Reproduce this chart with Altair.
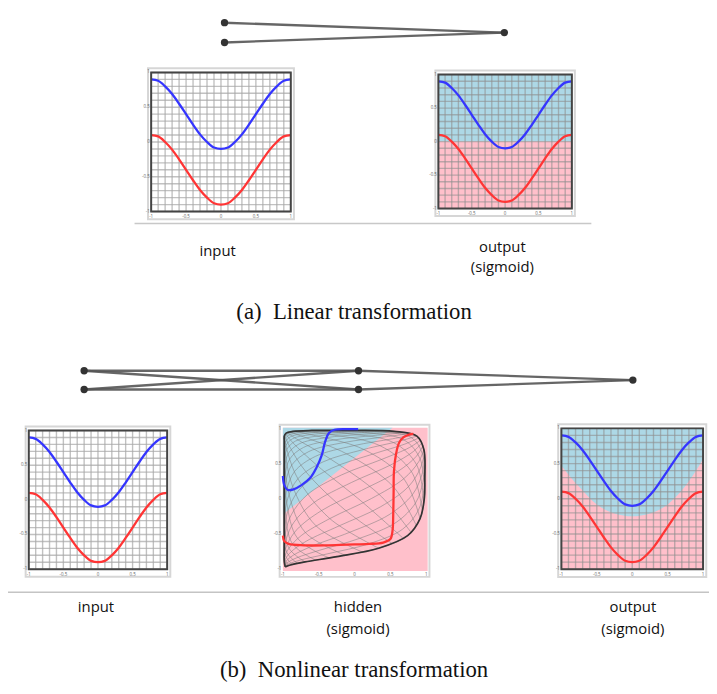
import altair as alt
import pandas as pd

# ---------------- data ----------------
grid_vals = [-1.0, -0.9, -0.8, -0.7, -0.6, -0.5, -0.4, -0.3, -0.2, -0.1, 0.0,
             0.1, 0.2, 0.3, 0.4, 0.5, 0.6, 0.7, 0.8, 0.9, 1.0]
tick_vals = [-1.0, -0.5, 0.0, 0.5, 1.0]
tick_labels = ["-1", "-0.5", "0", "0.5", "1"]

curve_x = [-1.0, -0.9, -0.8, -0.7, -0.6, -0.5, -0.4, -0.3, -0.2, -0.1, 0.0,
           0.1, 0.2, 0.3, 0.4, 0.5, 0.6, 0.7, 0.8, 0.9, 1.0]
blue_y = [0.90, 0.88, 0.80, 0.69, 0.55, 0.40, 0.25, 0.11, 0.00, -0.08, -0.10,
          -0.08, 0.00, 0.11, 0.25, 0.40, 0.55, 0.69, 0.80, 0.88, 0.90]
red_y = [0.10, 0.08, 0.00, -0.11, -0.25, -0.40, -0.55, -0.69, -0.80, -0.88, -0.90,
         -0.88, -0.80, -0.69, -0.55, -0.40, -0.25, -0.11, 0.00, 0.08, 0.10]

# decision boundary, linear output
lin_split = 0.0
# decision boundary, nonlinear output
nl_bx = [-1.0, -0.75, -0.5, -0.25, 0.0, 0.25, 0.5, 0.75, 1.0]
nl_by = [0.47, 0.17, -0.08, -0.21, -0.25, -0.21, -0.08, 0.18, 0.56]

# hidden layer panel
hid_split_x = [-1.0, 0.53]
hid_split_y = [-0.22, 1.02]
hid_blue_x = [-1.0, -0.98, -0.93, -0.85, -0.74, -0.62, -0.53, -0.46, -0.41, -0.36, -0.28, -0.10, 0.05]
hid_blue_y = [0.33, 0.20, 0.13, 0.14, 0.20, 0.30, 0.45, 0.62, 0.82, 0.94, 0.99, 1.00, 1.00]
hid_red_x = [-1.0, -0.98, -0.92, -0.70, -0.40, -0.10, 0.20, 0.40, 0.50, 0.53, 0.54, 0.545,
             0.55, 0.58, 0.62, 0.68, 0.76, 0.82]
hid_red_y = [-0.52, -0.60, -0.64, -0.66, -0.66, -0.65, -0.64, -0.62, -0.57, -0.45, -0.20, 0.10,
             0.40, 0.65, 0.80, 0.88, 0.92, 0.93]

# warped grid: lines that run from the lower / right edge into the top-left corner
hid_rays_x = [
    [-0.967, -0.98, -0.98, -0.98, -0.98],
    [-0.948, -0.98, -0.98, -0.98, -0.98],
    [-0.917, -0.979, -0.98, -0.98, -0.98],
    [-0.869, -0.967, -0.98, -0.98, -0.98],
    [-0.797, -0.947, -0.98, -0.98, -0.98],
    [-0.691, -0.915, -0.979, -0.98, -0.98],
    [-0.544, -0.867, -0.966, -0.98, -0.98],
    [-0.354, -0.793, -0.946, -0.98, -0.98],
    [-0.129, -0.686, -0.914, -0.978, -0.98],
    [0.110, -0.537, -0.864, -0.965, -0.98],
    [0.336, -0.345, -0.790, -0.945, -0.98],
    [0.530, -0.119, -0.681, -0.912, -0.978],
    [0.681, 0.119, -0.530, -0.862, -0.965],
    [0.790, 0.345, -0.336, -0.786, -0.944],
    [0.864, 0.537, -0.110, -0.675, -0.910],
    [0.914, 0.686, 0.129, -0.523, -0.859],
    [0.946, 0.793, 0.354, -0.328, -0.782],
    [0.966, 0.867, 0.544, -0.100, -0.670],
    [0.979, 0.915, 0.691, 0.139, -0.515],
    [0.980, 0.947, 0.797, 0.363, -0.319],
    [0.980, 0.967, 0.870, 0.551, -0.090],
]
hid_rays_y = [
    [-0.967, -0.896, -0.701, -0.278, 0.291],
    [-0.958, -0.871, -0.637, -0.166, 0.394],
    [-0.947, -0.840, -0.562, -0.051, 0.488],
    [-0.934, -0.802, -0.477, 0.066, 0.572],
    [-0.917, -0.756, -0.382, 0.181, 0.646],
    [-0.896, -0.701, -0.278, 0.291, 0.709],
    [-0.871, -0.637, -0.166, 0.394, 0.763],
    [-0.840, -0.562, -0.051, 0.488, 0.807],
    [-0.802, -0.477, 0.066, 0.572, 0.844],
    [-0.756, -0.382, 0.181, 0.646, 0.875],
    [-0.701, -0.278, 0.291, 0.709, 0.900],
    [-0.637, -0.166, 0.394, 0.763, 0.920],
    [-0.562, -0.051, 0.488, 0.807, 0.936],
    [-0.477, 0.066, 0.572, 0.844, 0.949],
    [-0.382, 0.181, 0.646, 0.875, 0.959],
    [-0.278, 0.291, 0.709, 0.900, 0.967],
    [-0.166, 0.394, 0.763, 0.920, 0.974],
    [-0.051, 0.488, 0.807, 0.936, 0.980],
    [0.066, 0.572, 0.844, 0.949, 0.980],
    [0.181, 0.646, 0.875, 0.959, 0.980],
    [0.291, 0.709, 0.900, 0.967, 0.980],
]
# warped grid: nested arcs around the top-left corner
hid_arcs_x = [
    [-0.967, -0.896, -0.691, -0.245, 0.336, 0.740, 0.914, 0.973, 0.980],
    [-0.975, -0.921, -0.758, -0.373, 0.205, 0.668, 0.887, 0.965, 0.980],
    [-0.980, -0.939, -0.812, -0.488, 0.066, 0.582, 0.853, 0.953, 0.980],
    [-0.980, -0.954, -0.856, -0.589, -0.076, 0.481, 0.809, 0.938, 0.980],
    [-0.980, -0.965, -0.889, -0.674, -0.215, 0.364, 0.754, 0.919, 0.975],
    [-0.980, -0.974, -0.915, -0.744, -0.345, 0.235, 0.686, 0.894, 0.967],
    [-0.980, -0.980, -0.935, -0.801, -0.464, 0.098, 0.603, 0.861, 0.956],
    [-0.980, -0.980, -0.951, -0.846, -0.568, -0.044, 0.505, 0.820, 0.942],
    [-0.980, -0.980, -0.963, -0.882, -0.656, -0.184, 0.392, 0.767, 0.924],
    [-0.980, -0.980, -0.972, -0.910, -0.730, -0.317, 0.265, 0.702, 0.900],
    [-0.980, -0.980, -0.979, -0.932, -0.790, -0.438, 0.129, 0.623, 0.870],
    [-0.980, -0.980, -0.980, -0.948, -0.837, -0.546, -0.012, 0.529, 0.830],
    [-0.980, -0.980, -0.980, -0.960, -0.875, -0.638, -0.153, 0.419, 0.780],
    [-0.980, -0.980, -0.980, -0.970, -0.904, -0.714, -0.288, 0.295, 0.718],
    [-0.980, -0.980, -0.980, -0.977, -0.927, -0.777, -0.412, 0.161, 0.642],
    [-0.980, -0.980, -0.980, -0.980, -0.945, -0.827, -0.523, 0.020, 0.551],
    [-0.980, -0.980, -0.980, -0.980, -0.958, -0.867, -0.618, -0.121, 0.445],
    [-0.980, -0.980, -0.980, -0.980, -0.968, -0.898, -0.698, -0.258, 0.324],
    [-0.980, -0.980, -0.980, -0.980, -0.976, -0.922, -0.764, -0.385, 0.192],
    [-0.980, -0.980, -0.980, -0.980, -0.980, -0.941, -0.817, -0.499, 0.052],
    [-0.980, -0.980, -0.980, -0.980, -0.980, -0.955, -0.860, -0.598, -0.090],
]
hid_arcs_y = [
    [-0.967, -0.941, -0.896, -0.821, -0.701, -0.521, -0.278, 0.008, 0.291],
    [-0.958, -0.926, -0.871, -0.780, -0.637, -0.431, -0.166, 0.124, 0.394],
    [-0.947, -0.908, -0.840, -0.730, -0.562, -0.331, -0.051, 0.237, 0.488],
    [-0.934, -0.885, -0.802, -0.670, -0.477, -0.223, 0.066, 0.344, 0.572],
    [-0.917, -0.856, -0.756, -0.601, -0.382, -0.109, 0.181, 0.442, 0.646],
    [-0.896, -0.821, -0.701, -0.521, -0.278, 0.008, 0.291, 0.532, 0.709],
    [-0.871, -0.780, -0.637, -0.431, -0.166, 0.124, 0.394, 0.610, 0.763],
    [-0.840, -0.730, -0.562, -0.331, -0.051, 0.237, 0.488, 0.679, 0.807],
    [-0.802, -0.670, -0.477, -0.223, 0.066, 0.344, 0.572, 0.737, 0.844],
    [-0.756, -0.601, -0.382, -0.109, 0.181, 0.442, 0.646, 0.786, 0.875],
    [-0.701, -0.521, -0.278, 0.008, 0.291, 0.532, 0.709, 0.827, 0.900],
    [-0.637, -0.431, -0.166, 0.124, 0.394, 0.610, 0.763, 0.861, 0.920],
    [-0.562, -0.331, -0.051, 0.237, 0.488, 0.679, 0.807, 0.888, 0.936],
    [-0.477, -0.223, 0.066, 0.344, 0.572, 0.737, 0.844, 0.910, 0.949],
    [-0.382, -0.109, 0.181, 0.442, 0.646, 0.786, 0.875, 0.928, 0.959],
    [-0.278, 0.008, 0.291, 0.532, 0.709, 0.827, 0.900, 0.943, 0.967],
    [-0.166, 0.124, 0.394, 0.610, 0.763, 0.861, 0.920, 0.954, 0.974],
    [-0.051, 0.237, 0.488, 0.679, 0.807, 0.888, 0.936, 0.964, 0.980],
    [0.066, 0.344, 0.572, 0.737, 0.844, 0.910, 0.949, 0.971, 0.980],
    [0.181, 0.442, 0.646, 0.786, 0.875, 0.928, 0.959, 0.977, 0.980],
    [0.291, 0.532, 0.709, 0.827, 0.900, 0.943, 0.967, 0.980, 0.980],
]
hid_outline_x = [-0.967, -0.896, -0.691, -0.245, 0.336, 0.740, 0.914, 0.973, 0.980,
                 0.967, 0.870, 0.551, -0.090, -0.598, -0.860, -0.955, -0.980, -0.980,
                 -0.980, -0.980, -0.980, -0.980, -0.980, -0.980, -0.967]
hid_outline_y = [-0.967, -0.941, -0.896, -0.821, -0.701, -0.521, -0.278, 0.008, 0.291,
                 0.709, 0.900, 0.967, 0.980, 0.980, 0.967, 0.943, 0.900, 0.827,
                 0.709, 0.532, 0.291, -0.278, -0.701, -0.896, -0.967]

# network diagrams: (layer index, unit position)
top_layer = [0, 0, 1]
top_unit = [0.0, 1.0, 0.5]
top_links = [(0, 2), (1, 2)]
bot_layer = [0, 0, 1, 1, 2]
bot_unit = [0.0, 1.0, 0.0, 1.0, 0.5]
bot_links = [(0, 2), (0, 3), (1, 2), (1, 3), (2, 4), (3, 4)]

# ---------------- styling ----------------
BLUE = "#3535ff"
RED = "#ff3535"
LBLUE = "#add8e6"
PINK = "#ffc0cb"
GRID = "#a6a6a6"
FRAME = "#444444"
LIGHT = "#d6d6d6"
SANS = "Open Sans"
SERIF = "Liberation Serif"
NB = "\u00a0"


def sc(rng, dom=(-1, 1)):
    return alt.Scale(domain=list(dom), range=list(rng), nice=False, zero=False)


def X(f, r, dom=(-1, 1)):
    return alt.X(f, type="quantitative", scale=sc(r, dom), axis=None)


def Y(f, r, dom=(-1, 1)):
    return alt.Y(f, type="quantitative", scale=sc(r, dom), axis=None)


def rect(x0, x1, y0, y1, xr, yr, **mk):
    df = pd.DataFrame({"x": [x0], "x2": [x1], "y": [y0], "y2": [y1]})
    return alt.Chart(df).mark_rect(**mk).encode(
        x=X("x", xr), x2="x2", y=Y("y", yr), y2="y2")


def grid(xr, yr, color=GRID, opacity=0.7):
    n = len(grid_vals)
    df = pd.DataFrame({"x": grid_vals + [-1.0] * n, "x2": grid_vals + [1.0] * n,
                       "y": [-1.0] * n + grid_vals, "y2": [1.0] * n + grid_vals})
    return alt.Chart(df).mark_rule(color=color, strokeWidth=1.4, opacity=opacity).encode(
        x=X("x", xr), x2="x2", y=Y("y", yr), y2="y2")


def curve(xs, ys, color, xr, yr, param=False):
    df = pd.DataFrame({"x": xs, "y": ys, "i": list(range(len(xs)))})
    enc = dict(x=X("x", xr), y=Y("y", yr))
    if param:
        enc["order"] = alt.Order("i:Q")
    interp = "catmull-rom" if param else "monotone"
    return alt.Chart(df).mark_line(color=color, strokeWidth=2.3, interpolate=interp).encode(**enc)


def ticks(xr, yr):
    df = pd.DataFrame({"v": tick_vals, "t": tick_labels})
    ylab = alt.Chart(df).mark_text(align="right", baseline="middle", dx=-1.5, fontSize=4.5,
                                   color="#666", font=SANS).encode(
        x=alt.X(datum=-1.0, scale=sc(xr), axis=None), y=Y("v", yr), text="t:N")
    xlab = alt.Chart(df).mark_text(align="center", baseline="top", dy=2.5, fontSize=4.5,
                                   color="#666", font=SANS).encode(
        x=X("v", xr), y=alt.Y(datum=-1.0, scale=sc(yr), axis=None), text="t:N")
    return [ylab, xlab]


def outer(xr, yr):
    return rect(-1.045, 1.045, -1.11, 1.06, xr, yr, fillOpacity=0, stroke=LIGHT, strokeWidth=2)


def frame(xr, yr):
    return rect(-1.0, 1.0, -1.0, 1.0, xr, yr, fillOpacity=0, stroke=FRAME, strokeWidth=2)


# ---------------- panels ----------------
def input_panel(xr, yr):
    return alt.layer(
        outer(xr, yr), grid(xr, yr),
        curve(curve_x, blue_y, BLUE, xr, yr), curve(curve_x, red_y, RED, xr, yr),
        frame(xr, yr), *ticks(xr, yr))


def linear_output_panel(xr, yr):
    return alt.layer(
        outer(xr, yr),
        rect(-1.0, 1.0, lin_split, 1.0, xr, yr, color=LBLUE),
        rect(-1.0, 1.0, -1.0, lin_split, xr, yr, color=PINK),
        grid(xr, yr, color="#8f8f8f", opacity=0.6),
        curve(curve_x, blue_y, BLUE, xr, yr), curve(curve_x, red_y, RED, xr, yr),
        frame(xr, yr), *ticks(xr, yr))


def nonlinear_output_panel(xr, yr):
    bdf = pd.DataFrame({"x": nl_bx, "y": nl_by})
    blue_area = alt.Chart(bdf).mark_area(color=LBLUE, opacity=1, interpolate="monotone").encode(
        x=X("x", xr), y=Y("y", yr), y2=alt.Y2(datum=1.0))
    return alt.layer(
        outer(xr, yr),
        rect(-1.0, 1.0, -1.0, 1.0, xr, yr, color=PINK),
        blue_area,
        grid(xr, yr, color="#8f8f8f", opacity=0.6),
        curve(curve_x, blue_y, BLUE, xr, yr), curve(curve_x, red_y, RED, xr, yr),
        frame(xr, yr), *ticks(xr, yr))


def warped(lines_x, lines_y, xr, yr):
    rows = []
    for k, (lx, ly) in enumerate(zip(lines_x, lines_y)):
        for i, (a, b) in enumerate(zip(lx, ly)):
            rows.append({"line": k, "i": i, "x": a, "y": b})
    df = pd.DataFrame(rows)
    return alt.Chart(df).mark_line(color="#7c7c7c", strokeWidth=0.9, opacity=0.6,
                                   interpolate="catmull-rom").encode(
        x=X("x", xr), y=Y("y", yr), detail="line:N", order="i:Q")


def hidden_panel(xr, yr):
    sdf = pd.DataFrame({"x": hid_split_x, "y": hid_split_y})
    blue_tri = alt.Chart(sdf).mark_area(color=LBLUE, opacity=1).encode(
        x=X("x", xr), y=Y("y", yr), y2=alt.Y2(datum=1.02))
    odf = pd.DataFrame({"x": hid_outline_x, "y": hid_outline_y,
                        "i": list(range(len(hid_outline_x)))})
    outline = alt.Chart(odf).mark_line(color="#333333", strokeWidth=1.7,
                                       interpolate="catmull-rom").encode(
        x=X("x", xr), y=Y("y", yr), order="i:Q")
    return alt.layer(
        outer(xr, yr),
        rect(-1.0, 1.02, -1.025, 1.02, xr, yr, color=PINK),
        blue_tri,
        warped(hid_rays_x, hid_rays_y, xr, yr),
        warped(hid_arcs_x, hid_arcs_y, xr, yr),
        outline,
        curve(hid_blue_x, hid_blue_y, BLUE, xr, yr, param=True),
        curve(hid_red_x, hid_red_y, RED, xr, yr, param=True),
        *ticks(xr, yr))


def network(layers, units, links, xr, yr, nlayers):
    ndf = pd.DataFrame({"layer": layers, "unit": units})
    edf = pd.DataFrame({"x": [layers[a] for a, b in links], "y": [units[a] for a, b in links],
                        "x2": [layers[b] for a, b in links], "y2": [units[b] for a, b in links]})
    dom = (0, nlayers - 1)
    edges = alt.Chart(edf).mark_rule(color="#555555", strokeWidth=2.4, opacity=0.9).encode(
        x=X("x", xr, dom), x2="x2", y=Y("y", yr, (0, 1)), y2="y2")
    nodes = alt.Chart(ndf).mark_circle(color="#333333", size=55, opacity=1).encode(
        x=X("layer", xr, dom), y=Y("unit", yr, (0, 1)))
    return alt.layer(edges, nodes)


def label(txt, x, y, size=15, font=SANS, baseline="middle"):
    return alt.Chart(pd.DataFrame({"t": [txt]})).mark_text(
        font=font, fontSize=size, color="#111", align="center", baseline=baseline).encode(
        x=alt.value(x), y=alt.value(y), text="t:N")


def hline(x0, x1, y, color="#c8c8c8"):
    return alt.Chart(pd.DataFrame({"k": [0]})).mark_rule(color=color, strokeWidth=1.5).encode(
        x=alt.value(x0), x2=alt.value(x1), y=alt.value(y))


layers = [
    network(top_layer, top_unit, top_links, [219, 502], [11, 31], 2),
    input_panel([144.8, 286], [202, 61.3]),
    linear_output_panel([435.3, 570.3], [199, 63.5]),
    hline(128, 590, 214),
    label("input", 212, 242),
    label("output", 500, 238),
    label("(sigmoid)", 500, 258),
    label("(a)" + NB + NB + "Linear transformation", 350, 311, size=23, font=SERIF,
          baseline="alphabetic"),
    network(bot_layer, bot_unit, bot_links, [77, 632], [363, 382], 3),
    input_panel([21, 161], [563.7, 423.5]),
    hidden_panel([278, 423], [563.7, 422]),
    nonlinear_output_panel([559.7, 703], [563.7, 421.3]),
    hline(0, 709, 587, color="#c4c4c4"),
    label("input", 89, 602),
    label("hidden", 354, 602),
    label("(sigmoid)", 354, 624),
    label("output", 632, 602),
    label("(sigmoid)", 632, 624),
    label("(b)" + NB + NB + "Nonlinear transformation", 350, 673, size=23, font=SERIF,
          baseline="alphabetic"),
]

chart = alt.layer(*layers).resolve_scale(x="independent", y="independent").properties(
    width=709, height=678, padding=0,
    autosize=alt.AutoSizeParams(type="none"),
).configure_view(stroke=None)

chart.save("out.html", embed_options={"renderer": "svg", "actions": False})
